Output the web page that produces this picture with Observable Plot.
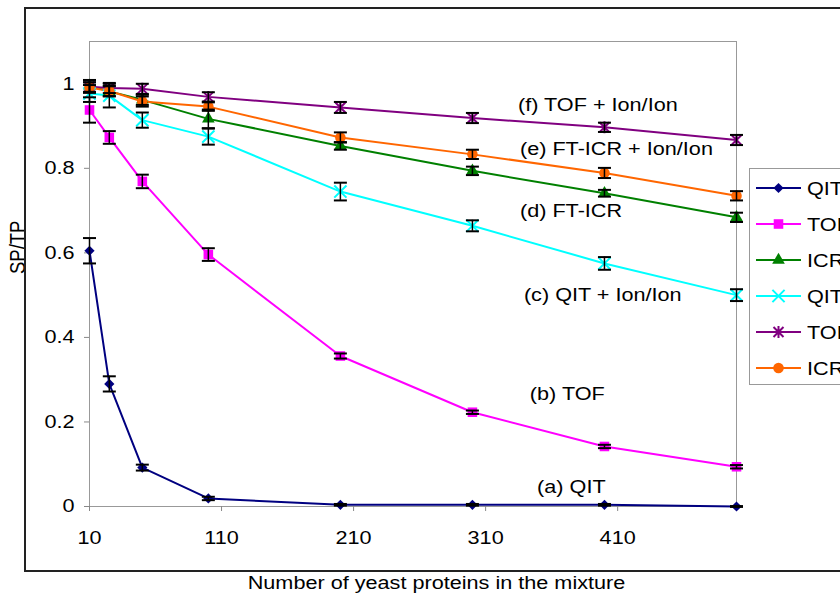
<!DOCTYPE html>
<html>
<head>
<meta charset="utf-8">
<script src="https://cdn.jsdelivr.net/npm/d3@7"></script>
<script src="https://cdn.jsdelivr.net/npm/@observablehq/plot@0.6"></script>
<style>
html,body{margin:0;padding:0;background:#fff;overflow:hidden;}
#wrap{position:relative;width:840px;height:600px;overflow:hidden;font-family:"Liberation Sans",Arial,sans-serif;}
#wrap svg.chart{position:absolute;left:0;top:0;}
#outer{position:absolute;left:24px;top:7px;width:900px;height:565px;border:2px solid #222;box-sizing:border-box;pointer-events:none;}
#legend{position:absolute;left:749px;top:168px;width:150px;height:217px;border:1px solid #999;box-sizing:border-box;background:#fff;}
#legend .row{position:absolute;left:0;height:36px;width:150px;}
#legend .row svg{position:absolute;left:6px;top:0;}
#legend .row span{position:absolute;left:57px;top:9px;font-size:18.5px;line-height:20px;white-space:nowrap;display:inline-block;transform:scaleX(1.17);transform-origin:left center;color:#000;}
</style>
</head>
<body>
<div id="wrap"></div>
<script>
// ---- data ----
const xValues = [10, 25, 50, 100, 200, 300, 400, 500];
const seriesNames = ["QIT", "TOF", "ICR", "QIT + Ion/Ion", "TOF + Ion/Ion", "ICR + Ion/Ion"];
const qit       = [0.605, 0.290, 0.092, 0.019, 0.004, 0.004, 0.004, 0.000];
const qitErr    = [0.030, 0.018, 0.007, 0.004, 0.002, 0.002, 0.002, 0.001];
const tof       = [0.938, 0.873, 0.769, 0.596, 0.356, 0.223, 0.142, 0.094];
const tofErr    = [0.030, 0.015, 0.016, 0.015, 0.006, 0.004, 0.004, 0.004];
const icr       = [0.995, 0.982, 0.962, 0.917, 0.853, 0.794, 0.741, 0.684];
const icrErr    = [0.014, 0.012, 0.012, 0.022, 0.009, 0.010, 0.008, 0.011];
const qitIon    = [0.977, 0.972, 0.914, 0.875, 0.745, 0.664, 0.575, 0.500];
const qitIonErr = [0.020, 0.028, 0.018, 0.019, 0.021, 0.013, 0.015, 0.014];
const tofIon    = [0.993, 0.990, 0.988, 0.969, 0.944, 0.919, 0.897, 0.867];
const tofIonErr = [0.014, 0.012, 0.012, 0.011, 0.013, 0.012, 0.011, 0.012];
const icrIon    = [0.991, 0.983, 0.958, 0.946, 0.873, 0.833, 0.789, 0.735];
const icrIonErr = [0.012, 0.012, 0.012, 0.010, 0.012, 0.011, 0.012, 0.011];

const xTicks = [10, 110, 210, 310, 410];
const yTicks = [0, 0.2, 0.4, 0.6, 0.8, 1];

const annoLabels = ["(f) TOF + Ion/Ion", "(e) FT-ICR + Ion/Ion", "(d) FT-ICR", "(c) QIT + Ion/Ion", "(b) TOF", "(a) QIT"];
const annoX = [334.5, 336, 336, 339, 343.5, 349];
const annoY = [0.950, 0.846, 0.700, 0.501, 0.265, 0.045];

const xTitle = "Number of yeast proteins in the mixture";
const yTitle = "SP/TP";

// ---- styles ----
const colors = ["#000080", "#FF00FF", "#008000", "#00FFFF", "#800080", "#FF6600"];
const starSymbol = {draw(ctx, size) { const a = 5; ctx.moveTo(-a, -a); ctx.lineTo(a, a); ctx.moveTo(-a, a); ctx.lineTo(a, -a); ctx.moveTo(0, -a - 1); ctx.lineTo(0, a + 1); }};
const capSymbol = {draw(ctx, size) { const w = 6.5; ctx.moveTo(-w, 0); ctx.lineTo(w, 0); }};
const symbols = [d3.symbolDiamond2, d3.symbolSquare, d3.symbolTriangle, d3.symbolTimes, starSymbol, d3.symbolCircle];
const radii = [4.6, 5.4, 4.7, 5.6, 5, 5.3];
const filled = [true, true, true, false, false, true];

const valueArrays = [qit, tof, icr, qitIon, tofIon, icrIon];
const errArrays = [qitErr, tofErr, icrErr, qitIonErr, tofIonErr, icrIonErr];

const rows = seriesNames.flatMap((name, s) => xValues.map((x, i) => ({series: name, s, x, y: valueArrays[s][i], e: errArrays[s][i]})));
const annos = annoLabels.map((label, i) => ({label, x: annoX[i], y: annoY[i]}));

const FS = 18.5;
const marks = [
  Plot.frame({stroke: "#999"}),
  Plot.axisX({ticks: xTicks, tickSize: 5, tickPadding: 19, stroke: "#888", fontSize: FS, label: null, tickFormat: d => String(d)}),
  Plot.axisY({ticks: yTicks, tickSize: 5, tickPadding: 10, stroke: "#888", fontSize: FS, label: null, tickFormat: d => String(d)}),
];
seriesNames.forEach((name, s) => {
  marks.push(Plot.line(rows.filter(d => d.s === s), {x: "x", y: "y", stroke: colors[s], strokeWidth: 2}));
});
seriesNames.forEach((name, s) => {
  marks.push(Plot.dot(rows.filter(d => d.s === s), {
    x: "x", y: "y", symbol: symbols[s], r: radii[s],
    fill: filled[s] ? colors[s] : "none",
    stroke: filled[s] ? "none" : colors[s],
    strokeWidth: 2
  }));
});
marks.push(
  Plot.ruleX(rows, {x: "x", y1: d => d.y - d.e, y2: d => d.y + d.e, stroke: "#000", strokeWidth: 1.5}),
  Plot.dot(rows, {x: "x", y: d => d.y + d.e, symbol: capSymbol, fill: "none", stroke: "#000", strokeWidth: 2}),
  Plot.dot(rows, {x: "x", y: d => d.y - d.e, symbol: capSymbol, fill: "none", stroke: "#000", strokeWidth: 2}),
  Plot.text(annos, {x: "x", y: "y", text: "label", textAnchor: "start", fontSize: FS, fill: "#000"}),
  Plot.text([yTitle], {frameAnchor: "left", dx: -71, rotate: -90, fontSize: FS, fill: "#000"}),
  Plot.text([xTitle], {frameAnchor: "bottom", dx: 23.5, dy: 82, fontSize: FS, fill: "#000"})
);

const chart = Plot.plot({
  width: 840,
  height: 600,
  marginLeft: 89,
  marginRight: 104,
  marginTop: 41,
  marginBottom: 94,
  style: {fontFamily: "'Liberation Sans', Arial, sans-serif", fontSize: FS + "px", background: "#fff", color: "#000"},
  x: {type: "linear", domain: [10, 500]},
  y: {type: "linear", domain: [0, 1.1]},
  marks
});
chart.classList.add("chart");
const wrap = document.getElementById("wrap");
wrap.appendChild(chart);

// horizontal stretch of text to match the reference's wide lettering
const S = 1.17;
chart.querySelectorAll("text").forEach(t => {
  const tr = t.getAttribute("transform") || "";
  if (/rotate/.test(tr)) {
    t.setAttribute("transform", `${tr} scale(1,${S})`);
    return;
  }
  const x = +(t.getAttribute("x") || 0);
  t.setAttribute("transform", `${tr} translate(${x},0) scale(${S},1) translate(${-x},0)`);
});

// outer frame
const outer = document.createElement("div");
outer.id = "outer";
wrap.appendChild(outer);

// legend
const legend = document.createElement("div");
legend.id = "legend";
wrap.appendChild(legend);
seriesNames.forEach((name, s) => {
  const row = document.createElement("div");
  row.className = "row";
  row.style.top = (1 + 36 * s) + "px";
  const sv = d3.create("svg").attr("width", 46).attr("height", 36);
  sv.append("line").attr("x1", 0).attr("x2", 45).attr("y1", 18).attr("y2", 18).attr("stroke", colors[s]).attr("stroke-width", 2);
  sv.append("path")
    .attr("transform", "translate(22.5,18)")
    .attr("d", d3.symbol(symbols[s], Math.PI * radii[s] * radii[s])())
    .attr("fill", filled[s] ? colors[s] : "none")
    .attr("stroke", filled[s] ? "none" : colors[s])
    .attr("stroke-width", 2);
  row.appendChild(sv.node());
  const sp = document.createElement("span");
  sp.textContent = name;
  row.appendChild(sp);
  legend.appendChild(row);
});
</script>
</body>
</html>
